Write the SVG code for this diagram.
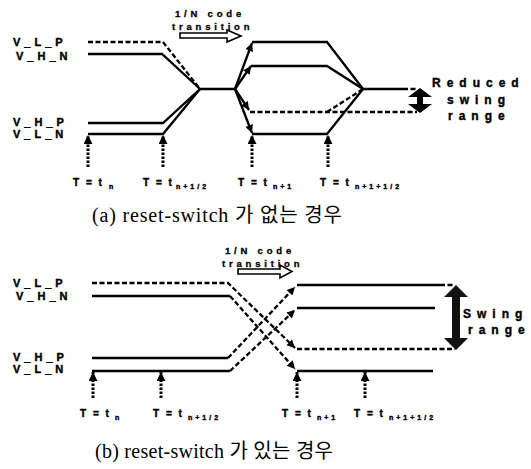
<svg xmlns="http://www.w3.org/2000/svg" width="531" height="469" viewBox="0 0 531 469">
<style>
.s{fill:none;stroke:#000;stroke-width:2.3}
.d{fill:none;stroke:#000;stroke-width:2.3;stroke-dasharray:5 2.5}
.v{fill:none;stroke:#000;stroke-width:3;stroke-dasharray:2.5 1.5}
.lbl{font-family:"Liberation Sans",Arial,sans-serif;font-weight:bold;font-size:11px;letter-spacing:4px;fill:#000;stroke:#000;stroke-width:0.4}
.tl{font-family:"Liberation Sans",Arial,sans-serif;font-weight:bold;font-size:10px;letter-spacing:2px;fill:#000;stroke:#000;stroke-width:0.4}
.sub{font-size:7px;letter-spacing:3px}
.cd{font-family:"Liberation Sans",Arial,sans-serif;font-weight:bold;font-size:9.5px;letter-spacing:3.8px;fill:#000;stroke:#000;stroke-width:0.3}
.rs{font-family:"Liberation Sans",Arial,sans-serif;font-weight:bold;font-size:12px;letter-spacing:6px;fill:#000;stroke:#000;stroke-width:0.4}
.cap{font-family:"Liberation Serif","Noto Sans CJK KR",serif;font-size:20px;fill:#000}
.ha{fill:#fff;stroke:#000;stroke-width:1.6}
</style>
<defs>
<marker id="ah" viewBox="0 0 10 10" refX="10" refY="5" markerWidth="10" markerHeight="8" markerUnits="userSpaceOnUse" orient="auto">
<path d="M0,0 L10,5 L0,10 z" fill="#000"/>
</marker>
<marker id="up" viewBox="0 0 10 10" refX="10" refY="5" markerWidth="12" markerHeight="9" markerUnits="userSpaceOnUse" orient="auto">
<path d="M0,0 L10,5 L0,10 z" fill="#000"/>
</marker>
</defs>
<rect width="531" height="469" fill="#fff"/>

<g id="panel-a">
<g id="a-labels">
<text class="lbl" x="13" y="46">V_L_P</text>
<text class="lbl" x="16" y="60">V_H_N</text>
<text class="lbl" x="13" y="126">V_H_P</text>
<text class="lbl" x="13" y="138">V_L_N</text>
</g>
<g id="a-code">
<text class="cd" x="175" y="17">1/N code</text>
<text class="cd" x="172" y="30" letter-spacing="3.4">transition</text>
<path class="ha" d="M180,33 H227 V30 L241,36 L227,42 V38 H180 z"/>
</g>
<g id="a-connectors">
<path class="d" d="M88,42 H163 L200,89"/>
<path class="s" d="M88,54 H162 L200,89"/>
<path class="s" d="M88,123 H163 L200,89"/>
<path class="s" d="M88,134 H163 L200,89"/>
<path class="s" d="M200,89 H235"/>
<path class="s" d="M235,89 L252,43" marker-end="url(#ah)"/>
<path class="s" d="M252,42 H327 L363,89"/>
<path class="s" d="M235,89 L251,66" marker-end="url(#ah)"/>
<path class="s" d="M251,66 H327 L363,89"/>
<path class="s" d="M235,89 L249,110" marker-end="url(#ah)"/>
<path class="d" d="M250,112 H417"/>
<path class="d" d="M327,112 L363,89"/>
<path class="s" d="M235,89 L252,133" marker-end="url(#ah)"/>
<path class="s" d="M252,134 H327 L363,89"/>
<path class="s" d="M363,89 H403"/>
<path class="d" d="M403,89 H417"/>
<path class="v" d="M88,167 V135" marker-end="url(#up)"/>
<path class="v" d="M163,167 V135" marker-end="url(#up)"/>
<path class="v" d="M252,167 V135" marker-end="url(#up)"/>
<path class="v" d="M328,167 V135" marker-end="url(#up)"/>
</g>
<g id="a-swing">
<polygon points="420,88 432,97 423,97 423,104 432,104 420,113 408,104 417,104 417,97 408,97" fill="#000"/>
<text class="rs" x="432" y="87">Reduced</text>
<text class="rs" x="447" y="104" letter-spacing="5.8">swing</text>
<text class="rs" x="448" y="120">range</text>
</g>
<g id="a-times">
<text class="tl" x="73" y="186">T = t<tspan class="sub" x="109" y="189">n</tspan></text>
<text class="tl" x="143" y="186">T = t<tspan class="sub" x="176" y="189">n+1/2</tspan></text>
<text class="tl" x="238" y="186">T = t<tspan class="sub" x="273" y="189">n+1</tspan></text>
<text class="tl" x="320" y="186">T = t<tspan class="sub" x="355" y="189">n+1+1/2</tspan></text>
</g>
<text id="a-caption" class="cap" x="92" y="222" textLength="250" lengthAdjust="spacing">(a) reset-switch 가 없는 경우</text>
</g>

<g id="panel-b">
<g id="b-labels">
<text class="lbl" x="13" y="287">V_L_P</text>
<text class="lbl" x="16" y="300">V_H_N</text>
<text class="lbl" x="13" y="361">V_H_P</text>
<text class="lbl" x="13" y="373">V_L_N</text>
</g>
<g id="b-code">
<text class="cd" x="225" y="254">1/N code</text>
<text class="cd" x="222" y="267" letter-spacing="3.2">transition</text>
<path class="ha" d="M238,269 H280 V265 L292,271.5 L280,278 V274 H238 z"/>
</g>
<g id="b-connectors">
<path class="d" d="M92,283 H228 L295,348" marker-end="url(#ah)"/>
<path class="d" d="M297,349 H455"/>
<path class="s" d="M92,296 H230"/>
<path class="d" d="M230,296 L295,369" marker-end="url(#ah)"/>
<path class="s" d="M297,371 H433"/>
<path class="s" d="M92,358 H228"/>
<path class="d" d="M228,358 L295,287" marker-end="url(#ah)"/>
<path class="s" d="M297,285 H440"/>
<path class="d" d="M440,285 H455"/>
<path class="s" d="M92,371 H230"/>
<path class="d" d="M230,371 L295,310" marker-end="url(#ah)"/>
<path class="s" d="M297,308 H435"/>
<path class="v" d="M93,398 V372" marker-end="url(#up)"/>
<path class="v" d="M161,398 V372" marker-end="url(#up)"/>
<path class="v" d="M297,398 V372" marker-end="url(#up)"/>
<path class="v" d="M365,398 V372" marker-end="url(#up)"/>
</g>
<g id="b-swing">
<polygon points="456,285 468,297 460,297 460,338 468,338 456,350 444,338 452,338 452,297 444,297" fill="#111"/>
<text class="rs" x="463" y="318" font-size="11.5" letter-spacing="5.5">Swing</text>
<text class="rs" x="468" y="334" font-size="11.5" letter-spacing="4.8">range</text>
</g>
<g id="b-times">
<text class="tl" x="80" y="417">T = t<tspan class="sub" x="115" y="420">n</tspan></text>
<text class="tl" x="153" y="417">T = t<tspan class="sub" x="188" y="420">n+1/2</tspan></text>
<text class="tl" x="282" y="417">T = t<tspan class="sub" x="317" y="420">n+1</tspan></text>
<text class="tl" x="354" y="417">T = t<tspan class="sub" x="389" y="420">n+1+1/2</tspan></text>
</g>
<text id="b-caption" class="cap" x="95" y="458" textLength="238" lengthAdjust="spacing">(b) reset-switch 가 있는 경우</text>
</g>
</svg>
